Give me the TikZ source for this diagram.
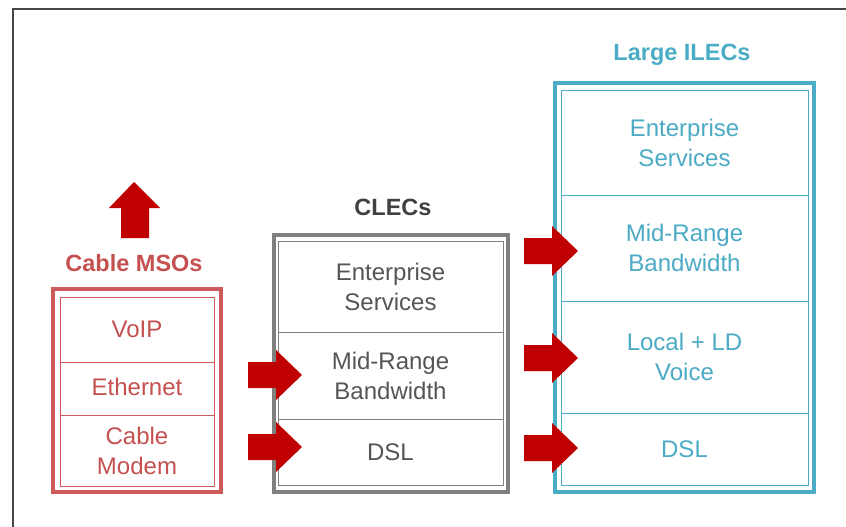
\documentclass[tikz,border=0pt]{standalone}
\usepackage{fontspec}
\setmainfont{Liberation Sans}
\definecolor{msored}{RGB}{204,90,90}
\definecolor{msotext}{RGB}{196,80,80}
\definecolor{arrowred}{RGB}{192,0,0}
\definecolor{clecgray}{RGB}{128,128,128}
\definecolor{clectext}{RGB}{85,85,85}
\definecolor{cleclabel}{RGB}{64,64,64}
\definecolor{ilecblue}{RGB}{75,172,198}
\definecolor{ilectext}{RGB}{75,170,196}
\definecolor{framegray}{RGB}{70,70,70}
\tikzset{
  rowbox/.style={draw, line width=1pt, inner sep=0pt, align=center,
    font=\fontsize{24}{30}\selectfont},
  grouplabel/.style={font=\bfseries\fontsize{23.5}{28}\selectfont, inner sep=0pt},
  outerbox/.style={line width=3.5pt},
  redarrow/.pic={\fill[arrowred] (0,-13) -- (28,-13) -- (28,-25) -- (54,0)
      -- (28,25) -- (28,13) -- (0,13) -- cycle;}
}
\begin{document}
\begin{tikzpicture}[x=1pt,y=-1pt]
\useasboundingbox (0,0) rectangle (846,527);
% frame
\draw[framegray, line width=2.5pt] (13,527) -- (13,9) -- (846,9);

% ---------- Cable MSOs ----------
\fill[arrowred] (134,182) -- (160,208) -- (149,208) -- (149,238) -- (121,238)
  -- (121,208) -- (109,208) -- cycle;
\node[grouplabel, text=msotext] (msolabel) at (134,263) {Cable MSOs};
\draw[msored, outerbox] (53,289) rectangle (221,492);
\draw[white, line width=1pt] (55.5,291.5) rectangle (218.5,489.5);
\begin{scope}[every node/.style={rowbox, draw=msored, text=msotext, minimum width=154pt}]
\node[minimum height=65pt] (m1) at (137,329.5) {\raisebox{-4pt}{VoIP}};
\node[minimum height=53pt] (m2) at (137,388.5) {\raisebox{3pt}{Ethernet}};
\node[minimum height=71pt] (m3) at (137,450.5) {Cable\\Modem};
\end{scope}

% ---------- CLECs ----------
\node[grouplabel, text=cleclabel] (cleclabel) at (393,207) {CLECs};
\draw[clecgray, outerbox] (274,235) rectangle (508,492);
\draw[white, line width=1pt] (276.5,237.5) rectangle (505.5,489.5);
\begin{scope}[every node/.style={rowbox, draw=clecgray, text=clectext, minimum width=225pt}]
\node[minimum height=91pt] (c1) at (390.5,286.5) {Enterprise\\Services};
\node[minimum height=87pt] (c2) at (390.5,375.5) {Mid-Range\\Bandwidth};
\node[minimum height=66pt] (c3) at (390.5,452) {DSL};
\end{scope}

% ---------- Large ILECs ----------
\node[grouplabel, text=ilecblue] (ileclabel) at (682,55) {Large ILECs};
\draw[ilecblue, outerbox] (555,83) rectangle (814,492);
\draw[white, line width=1pt] (557.5,85.5) rectangle (811.5,489.5);
\begin{scope}[every node/.style={rowbox, draw=ilecblue, text=ilectext, minimum width=247pt}]
\node[minimum height=105pt] (i1) at (684.5,142.5) {Enterprise\\Services};
\node[minimum height=106pt] (i2) at (684.5,248) {Mid-Range\\Bandwidth};
\node[minimum height=112pt] (i3) at (684.5,357) {Local + LD\\Voice};
\node[minimum height=72pt] (i4) at (684.5,449) {DSL};
\end{scope}

% ---------- arrows ----------
\pic at (248,375) {redarrow};
\pic at (248,447) {redarrow};
\pic at (524,251) {redarrow};
\pic at (524,358) {redarrow};
\pic at (524,448) {redarrow};
\end{tikzpicture}
\end{document}
